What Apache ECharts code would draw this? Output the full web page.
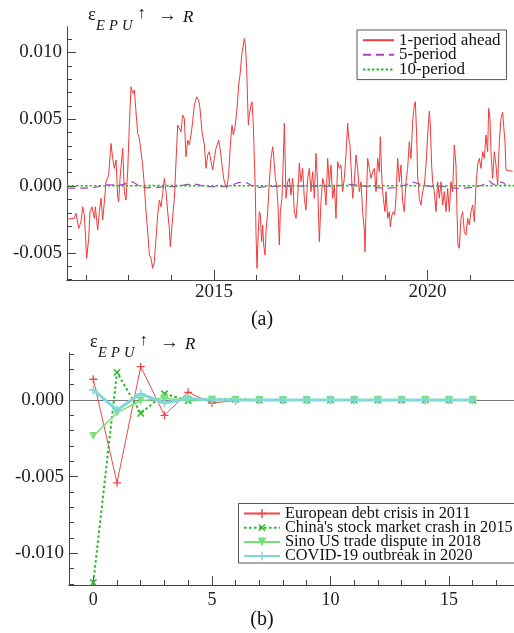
<!DOCTYPE html>
<html><head><meta charset="utf-8">
<script src="https://cdn.jsdelivr.net/npm/echarts@6/dist/echarts.min.js"></script>
<style>html,body{margin:0;padding:0;background:#fff}#c{width:514px;height:633px}</style>
</head><body><div id="c"></div>
<script>
// ---------- Panel (a): time-varying responses ----------
const oneAheadYears = [2011.56,2011.729,2011.768,2011.831,2011.885,2011.924,2011.963,2012.018,2012.065,2012.096,2012.143,2012.198,2012.221,2012.276,2012.315,2012.354,2012.393,2012.432,2012.471,2012.533,2012.588,2012.627,2012.666,2012.705,2012.744,2012.767,2012.799,2012.861,2012.900,2012.939,2012.978,2013.017,2013.056,2013.095,2013.134,2013.173,2013.212,2013.251,2013.290,2013.329,2013.368,2013.408,2013.447,2013.486,2013.525,2013.564,2013.603,2013.642,2013.681,2013.720,2013.759,2013.798,2013.837,2013.876,2013.915,2013.954,2013.977,2014.016,2014.071,
2014.149,2014.188,2014.227,2014.266,2014.305,2014.344,2014.383,2014.422,2014.461,2014.500,2014.539,2014.594,2014.641,2014.672,2014.719,2014.774,2014.813,2014.852,2014.891,2014.930,2014.969,2015.008,2015.047,2015.109,2015.148,2015.187,2015.226,2015.265,2015.297,2015.343,2015.382,2015.421,2015.453,2015.500,2015.539,2015.578,2015.617,2015.648,2015.687,2015.710,2015.734,2015.765,2015.804,2015.827,2015.866,2015.890,2015.921,2015.944,2015.968,2015.983,2016.007,2016.038,2016.062,2016.085,2016.116,2016.140,2016.163,2016.194,2016.218,2016.257,2016.296,2016.335,2016.374,2016.397,2016.436,2016.468,2016.499,2016.530,2016.553,2016.592,2016.624,2016.647,2016.671,
2016.686,2016.725,2016.764,2016.803,2016.842,2016.881,2016.920,2016.959,2016.998,2017.037,2017.076,2017.115,2017.154,2017.193,2017.232,2017.271,2017.311,2017.350,2017.389,2017.428,2017.467,2017.506,2017.545,2017.584,2017.623,2017.662,2017.701,2017.740,2017.779,2017.818,2017.857,2017.896,2017.935,2017.974,2018.013,2018.052,2018.091,2018.130,2018.154,2018.185,2018.208,2018.247,2018.286,2018.325,2018.364,2018.403,2018.442,2018.481,2018.520,2018.536,2018.560,2018.599,2018.638,2018.677,2018.716,2018.755,2018.794,2018.833,2018.872,2018.895,2018.934,2018.965,2019.004,2019.028,2019.067,2019.106,2019.129,2019.168,2019.200,2019.231,2019.262,
2019.301,2019.340,2019.379,2019.418,2019.457,2019.496,2019.535,2019.574,2019.613,2019.652,2019.691,2019.715,2019.746,2019.769,2019.808,2019.847,2019.886,2019.926,2019.965,2020.004,2020.043,2020.066,2020.097,2020.121,2020.160,2020.199,2020.238,2020.277,2020.316,2020.355,2020.394,2020.433,2020.472,2020.511,2020.550,2020.589,2020.628,2020.667,2020.691,2020.714,2020.745,2020.784,2020.823,2020.862,2020.901,2020.940,2020.979,2021.018,2021.058,2021.097,2021.136,2021.175,2021.214,2021.253,2021.292,2021.331,2021.370,2021.409,2021.432,2021.463,2021.487,2021.526,2021.565,2021.604,2021.643,2021.682,2021.721,2021.760,2021.783,2021.815,2021.838,2021.916,2021.994];
const oneAhead = [-0.00247,-0.00242,-0.00204,-0.00317,-0.00267,-0.00155,-0.00217,-0.00541,-0.00392,-0.00192,-0.00155,-0.00242,-0.00155,-0.00329,-0.00192,-0.00092,-0.00254,-0.00117,0.00032,0.00082,0.00319,0.00207,0.00132,0.00195,-0.00080,-0.00117,0.00057,0.00282,-0.00042,-0.00105,0.00107,0.00456,0.00743,0.00693,0.00718,0.00556,0.00394,0.00357,0.00357,0.00157,0.00007,-0.00192,-0.00342,-0.00516,-0.00541,-0.00616,-0.00566,-0.00392,-0.00217,-0.00105,-0.00155,-0.00055,0.00057,-0.00042,-0.00192,-0.00317,-0.00454,-0.00292,-0.00092,
0.00456,0.00469,0.00406,0.00531,0.00506,0.00219,0.00344,0.00307,0.00382,0.00481,0.00606,0.00668,0.00643,0.00581,0.00406,0.00307,0.00132,0.00232,0.00257,0.00182,0.00120,0.00207,0.00282,0.00344,0.00269,0.00157,0.00057,0.00007,-0.00017,0.00082,0.00307,0.00456,0.00382,0.00456,0.00581,0.00756,0.00855,0.00980,0.01055,0.01105,0.01055,0.00880,0.00456,0.00531,0.00606,0.00631,0.00456,0.00207,-0.00042,-0.00342,-0.00616,-0.00342,-0.00192,-0.00217,-0.00416,-0.00292,-0.00441,-0.00516,-0.00342,-0.00192,0.00032,0.00207,0.00294,0.00232,0.00057,0.00007,-0.00142,-0.00441,-0.00192,-0.00092,0.00207,0.00469,0.00157,
-0.00092,0.00032,0.00057,-0.00067,0.00057,-0.00192,-0.00242,-0.00092,0.00170,0.00032,0.00132,-0.00092,-0.00180,0.00057,0.00132,-0.00042,0.00107,-0.00092,0.00244,0.00007,-0.00416,-0.00117,0.00057,0.00007,-0.00142,0.00207,0.00007,0.00157,-0.00092,0.00007,-0.00242,0.00182,0.00132,0.00157,-0.00042,0.00057,0.00232,0.00469,0.00357,0.00307,0.00157,-0.00092,0.00032,0.00232,0.00132,-0.00042,0.00032,-0.00192,-0.00329,-0.00491,-0.00192,0.00207,0.00132,0.00057,0.00107,0.00132,-0.00042,0.00207,0.00107,0.00369,0.00032,-0.00092,-0.00192,-0.00042,-0.00242,-0.00192,-0.00304,-0.00217,-0.00192,-0.00217,-0.00092,
0.00207,0.00032,0.00157,-0.00117,-0.00192,0.00032,0.00132,0.00332,0.00207,0.00481,0.00606,0.00631,0.00382,0.00082,-0.00092,-0.00142,-0.00042,0.00007,0.00157,0.00382,0.00561,0.00456,0.00157,0.00032,-0.00042,-0.00192,0.00032,-0.00092,0.00032,-0.00142,-0.00042,-0.00192,-0.00017,-0.00192,0.00032,-0.00042,0.00307,0.00157,-0.00192,-0.00441,-0.00466,-0.00242,-0.00192,-0.00342,-0.00367,-0.00242,-0.00292,-0.00192,-0.00142,-0.00267,0.00007,0.00157,0.00207,0.00132,0.00257,0.00207,0.00382,0.00257,0.00581,0.00506,0.00257,0.00057,0.00257,0.00157,0.00007,0.00332,0.00506,0.00551,0.00456,0.00332,0.00120,0.00115,0.00110];

const fivePeriodYears = [2011.56,2011.9,2012.2,2012.5,2012.8,2012.95,2013.05,2013.13,2013.25,2013.45,2013.65,2013.9,2014.1,2014.4,2014.6,2014.8,2015.1,2015.4,2015.6,2015.75,2015.9,2016.0,2016.2,2016.6,2017.0,2017.5,2018.0,2018.15,2018.5,2019.0,2019.25,2019.5,2019.65,2019.75,2020.0,2020.4,2020.7,2020.85,2021.1,2021.3,2021.45,2021.55,2021.7,2021.78,2021.84];
const fivePeriod = [-0.00015,-0.00015,-0.0001,0.00008,0.00008,0.0002,0.00032,0.00025,0.0,-0.00012,-0.0001,-0.00005,-0.00005,0.00012,0.00012,-0.00005,-0.00005,0.00005,0.00027,0.00025,0.0,-0.0001,-0.00005,-0.00002,0.0,-0.00003,0.00005,0.00012,0.0,-0.00015,-0.00012,0.0001,0.0003,0.0002,0.0,-0.00005,-0.00018,-0.00015,-0.00008,0.0001,0.00037,0.00012,0.0003,0.00025,0.00002];

const tenPeriodYears = [2011.56,2014.0,2016.0,2018.0,2020.0,2022.03];
const tenPeriod = [0.00002,0.00003,0.00002,0.00003,0.00002,0.00003];

const topSeriesNames = ['1-period ahead','5-period','10-period'];
const topXLabels = [2015, 2020];
const topXMinor = [2012,2013,2014,2015,2016,2017,2018,2019,2020,2021];
const topYLabels = [-0.005, 0, 0.005, 0.010];
const topYMinor = [-0.007,-0.006,-0.005,-0.004,-0.003,-0.002,-0.001,0,0.001,0.002,0.003,0.004,0.005,0.006,0.007,0.008,0.009,0.010,0.011];

// ---------- Panel (b): impulse responses at events ----------
const periods = [0,1,2,3,4,5,6,7,8,9,10,11,12,13,14,15,16];
const europeanDebt = [0.00135,-0.0054,0.00217,-0.0010,0.0005,-0.0002,-0.00004,0,0,0,0,0,0,0,0,0,0];
const chinaCrash = [-0.0119,0.0018,-0.00087,0.0004,-0.00005,0.00005,0.00004,0,0,0,0,0,0,0,0,0,0];
const sinoUS = [-0.00235,-0.00083,-0.00005,0.0001,0.0,0.00002,0,0,0,0,0,0,0,0,0,0,0];
const covid = [0.00065,-0.00065,0.0004,-0.0002,0.0001,0.0,0,0,0,0,0,0,0,0,0,0,0];
const bottomSeriesNames = ['European debt crisis in 2011',"China's stock market crash in 2015",'Sino US trade dispute in 2018','COVID-19 outbreak in 2020'];
const botXLabels = [0,5,10,15];
const botXMinor = [0,1,2,3,4,5,6,7,8,9,10,11,12,13,14,15,16,17];
const botYLabels = [-0.010,-0.005,0];
const botYMinor = [-0.012,-0.011,-0.010,-0.009,-0.008,-0.007,-0.006,-0.005,-0.004,-0.003,-0.002,-0.001,0,0.001,0.002,0.003];

const FONT = '"Liberation Serif", "Times New Roman", serif';
const AX = '#444';
const chart = echarts.init(document.getElementById('c'), null, {renderer:'canvas'});
const zip = (xs, ys) => xs.map((x,i)=>[x, ys[i]]);
const plusPath = 'path://M4.2,0H5.8V10H4.2ZM0,4.2H10V5.8H0Z';

function xAx(grid, min, max, vals, len, labels, fs, margin){
  return {gridIndex:grid, type:'value', position:'bottom', min:min, max:max,
    axisLine:{show:true, onZero:false, lineStyle:{color:AX, width:1}},
    axisTick:{show:true, inside:true, length:len, customValues:vals, lineStyle:{color:AX, width:1}},
    axisLabel: labels ? {show:true, customValues:labels, fontFamily:FONT, fontSize:fs, color:'#222', margin:margin, formatter:v=>String(v)} : {show:false},
    splitLine:{show:false}};
}
function yAx(grid, min, max, vals, len, labels, fs){
  return {gridIndex:grid, type:'value', position:'left', min:min, max:max,
    axisLine:{show:true, onZero:false, lineStyle:{color:AX, width:1}},
    axisTick:{show:true, inside:true, length:len, customValues:vals, lineStyle:{color:AX, width:1}},
    axisLabel: labels ? {show:true, customValues:labels, fontFamily:FONT, fontSize:fs, color:'#222', margin:5, formatter:v=>v.toFixed(3)} : {show:false},
    splitLine:{show:false}};
}

function titleEls(dx, dy){
  const t = (txt, x, y, font) => ({type:'text', x:x+dx, y:y+dy, silent:true,
    style:{text:txt, font:font, fill:'#111', verticalAlign:'middle', align:'left'}});
  return [
    t('ε', 88, 15, '18px '+FONT),
    t('E', 96, 26, 'italic 14.5px '+FONT),
    t('P', 109, 26, 'italic 14.5px '+FONT),
    t('U', 122, 26, 'italic 14.5px '+FONT),
    t('↑', 137.5, 14, '16px '+FONT),
    t('→', 158, 16.5, '19px '+FONT),
    t('R', 183, 17.5, 'italic 17px '+FONT)
  ];
}

const option = {
  animation:false,
  backgroundColor:'#fff',
  grid:[
    {left:67, top:27, width:447, height:253, containLabel:false},
    {left:69, top:353, width:445, height:232, containLabel:false}
  ],
  xAxis:[
    xAx(0, 2011.557, 2022.026, topXLabels, 10, topXLabels, 19, 3),
    xAx(0, 2011.557, 2022.026, topXMinor, 5, null),
    xAx(1, -1.025, 17.74, botXLabels, 9, botXLabels, 18, 6),
    xAx(1, -1.025, 17.74, botXMinor, 5, null)
  ],
  yAxis:[
    yAx(0, -0.00703, 0.0119, topYLabels, 9, topYLabels, 19),
    yAx(0, -0.00703, 0.0119, topYMinor, 5, null),
    yAx(1, -0.01206, 0.00306, botYLabels, 9, botYLabels, 19),
    yAx(1, -0.01206, 0.00306, botYMinor, 5, null)
  ],
  legend:[
    {orient:'vertical', left:357, top:30, data:topSeriesNames, itemWidth:31, itemHeight:12, itemGap:-2.4,
     padding:[1.7,6,1.7,5], borderColor:'#555', borderWidth:1, backgroundColor:'#fff',
     itemStyle:{opacity:0},
     textStyle:{fontFamily:FONT, fontSize:17, color:'#111'}, selectedMode:false},
    {orient:'vertical', left:238, top:505.5, data:bottomSeriesNames, itemWidth:36, itemHeight:11, itemGap:-1.8,
     padding:[0,0,0,5], borderWidth:0, backgroundColor:'#fff',
     textStyle:{fontFamily:FONT, fontSize:16.3, color:'#111'}, selectedMode:false}
  ],
  series:[
    {name:topSeriesNames[0], type:'line', xAxisIndex:0, yAxisIndex:0, data:zip(oneAheadYears, oneAhead),
     symbol:'none', lineStyle:{color:'#f23a3a', width:1}, itemStyle:{color:'#f23a3a', opacity:0}, z:2},
    {name:topSeriesNames[1], type:'line', xAxisIndex:0, yAxisIndex:0, data:zip(fivePeriodYears, fivePeriod),
     symbol:'none', smooth:0.3, lineStyle:{color:'#b040c8', width:1.2, type:[8,5]}, itemStyle:{color:'#b040c8', opacity:0}, z:3},
    {name:topSeriesNames[2], type:'line', xAxisIndex:0, yAxisIndex:0, data:zip(tenPeriodYears, tenPeriod),
     symbol:'none', lineStyle:{color:'#22c022', width:1.6, type:[2.5,2]}, itemStyle:{color:'#22c022', opacity:0}, z:4},

    {name:bottomSeriesNames[0], type:'line', xAxisIndex:2, yAxisIndex:2, data:zip(periods, europeanDebt),
     symbol:plusPath, symbolSize:8, lineStyle:{color:'#f04848', width:1}, itemStyle:{color:'#f04848'}, z:3,
     markLine:{silent:true, symbol:'none', label:{show:false}, lineStyle:{color:'#777', width:1, type:'solid'}, data:[{yAxis:0}], z:1}},
    {name:bottomSeriesNames[1], type:'line', xAxisIndex:2, yAxisIndex:2, data:zip(periods, chinaCrash),
     symbol:plusPath, symbolRotate:45, symbolSize:9, lineStyle:{color:'#28b828', width:2, type:[2.5,2.5]}, itemStyle:{color:'#28b828'}, z:4},
    {name:bottomSeriesNames[2], type:'line', xAxisIndex:2, yAxisIndex:2, data:zip(periods, sinoUS),
     symbol:'triangle', symbolRotate:180, symbolSize:8, lineStyle:{color:'#78e078', width:1.5}, itemStyle:{color:'#78e078'}, z:5},
    {name:bottomSeriesNames[3], type:'line', xAxisIndex:2, yAxisIndex:2, data:zip(periods, covid),
     symbol:plusPath, symbolSize:9, lineStyle:{color:'#80d8d8', width:3}, itemStyle:{color:'#80d8d8'}, z:6}
  ],
  graphic:[
    ...titleEls(0, 0),
    ...titleEls(2, 327),
    {type:'rect', silent:true, z:100, shape:{x:238.5, y:503.5, width:300, height:59.5},
     style:{fill:'none', stroke:'#555', lineWidth:1}},
    {type:'text', x:262, y:320, silent:true, style:{text:'(a)', font:'20px '+FONT, fill:'#111', align:'center', verticalAlign:'middle'}},
    {type:'text', x:262, y:620, silent:true, style:{text:'(b)', font:'20px '+FONT, fill:'#111', align:'center', verticalAlign:'middle'}}
  ]
};
chart.setOption(option);
</script>
</body></html>
